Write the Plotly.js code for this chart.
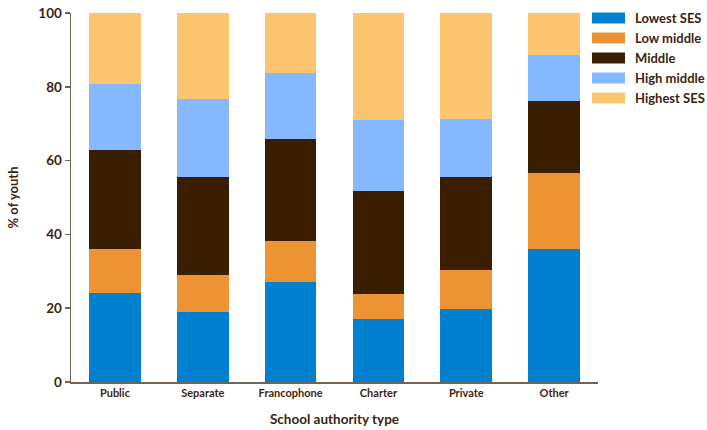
<!DOCTYPE html>
<html>
<head>
<meta charset="utf-8">
<script src="https://cdn.plot.ly/plotly-3.0.1.min.js"></script>
<style>html,body{margin:0;padding:0;background:#fff;}#chart{width:707px;height:430px;}</style>
</head>
<body>
<div id="chart"></div>
<script>
var categories = ["Public", "Separate", "Francophone", "Charter", "Private", "Other"];
var seriesNames = ["Lowest SES", "Low middle", "Middle", "High middle", "Highest SES"];
var seriesColors = ["#0180d0", "#ee9333", "#3b1e00", "#85b8fe", "#fec570"];
var lowestSES   = [24.1, 19.0, 27.1, 17.1, 19.8, 36.1];
var lowMiddle   = [12.0, 10.0, 11.2, 6.8, 10.6, 20.6];
var middle      = [26.8, 26.6, 27.6, 27.9, 25.2, 19.5];
var highMiddle  = [17.9, 21.1, 17.8, 19.3, 15.7, 12.4];
var highestSES  = [19.1, 23.3, 16.4, 28.8, 28.6, 11.4];
var yTicks = [0, 20, 40, 60, 80, 100];

var seriesValues = [lowestSES, lowMiddle, middle, highMiddle, highestSES];
var textColor = "#3d2410";
var font = "Lato, 'Open Sans', sans-serif";

var traces = seriesValues.map(function (vals, i) {
  return {
    type: "bar",
    name: seriesNames[i],
    x: categories,
    y: vals,
    marker: {color: seriesColors[i], line: {width: 0}},
    showlegend: false,
    hoverinfo: "x+y+name"
  };
});

// custom legend: swatch shapes + text annotations in paper coords
var shapes = [];
var annotations = [];
var plotW = 707 - 71 - 109, plotH = 430 - 13 - 48;
function px2paperX(px) { return (px - 71) / plotW; }
function px2paperY(py) { return (430 - 48 - py) / plotH; }
seriesNames.forEach(function (name, i) {
  var cy = 18 + i * 20;
  shapes.push({
    type: "rect", xref: "paper", yref: "paper",
    x0: px2paperX(592), x1: px2paperX(625),
    y0: px2paperY(cy + 5.5), y1: px2paperY(cy - 5.5),
    fillcolor: seriesColors[i], line: {width: 0}
  });
  annotations.push({
    xref: "paper", yref: "paper",
    x: px2paperX(633), y: px2paperY(cy),
    xanchor: "left", yanchor: "middle",
    text: name, showarrow: false,
    font: {family: font, size: 13, color: textColor, weight: "bold"}
  });
});

var layout = {
  width: 707, height: 430,
  margin: {l: 71, r: 109, t: 13, b: 48},
  paper_bgcolor: "#ffffff", plot_bgcolor: "#ffffff",
  barmode: "stack",
  bargap: 0.41,
  showlegend: false,
  font: {family: font, color: textColor},
  xaxis: {
    type: "category",
    range: [-0.5, 5.5],
    showline: true, linecolor: "#7a6250", linewidth: 1.5,
    ticks: "", showgrid: false, zeroline: false,
    tickfont: {family: font, size: 11, color: textColor, weight: "bold"},
    title: {text: "School authority type", standoff: 17,
            font: {family: font, size: 13.5, color: textColor, weight: "bold"}}
  },
  yaxis: {
    range: [0, 100], tickvals: yTicks,
    showline: true, linecolor: "#7a6250", linewidth: 1.5,
    ticks: "outside", ticklen: 5, tickcolor: "#7a6250", tickwidth: 1.5,
    showgrid: false, zeroline: false,
    tickfont: {family: font, size: 13.5, color: textColor, weight: "bold"},
    title: {text: "% of youth", standoff: 16,
            font: {family: font, size: 13, color: textColor, weight: "bold"}}
  },
  shapes: shapes,
  annotations: annotations
};

Plotly.newPlot("chart", traces, layout, {displayModeBar: false, staticPlot: true});
</script>
</body>
</html>
